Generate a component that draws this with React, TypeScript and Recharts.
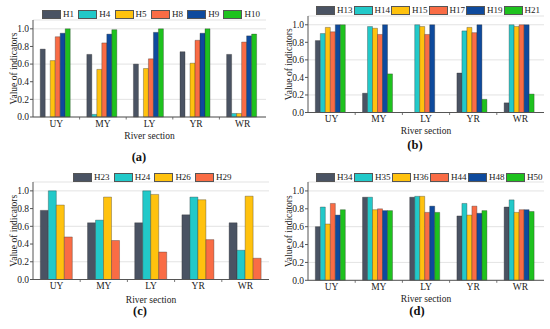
import React from "react";
import { BarChart, Bar, XAxis, YAxis, CartesianGrid, Legend } from "recharts";

const SECTIONS = ["UY", "MY", "LY", "YR", "WR"];
const Y_TICKS = [0, 0.2, 0.4, 0.6, 0.8, 1.0];

// panel (a)
const H1 = [0.77, 0.71, 0.6, 0.74, 0.71];
const H4 = [0, 0.03, 0, 0, 0.04];
const H5 = [0.64, 0.54, 0.55, 0.61, 0.04];
const H8 = [0.91, 0.84, 0.66, 0.87, 0.85];
const H9 = [0.95, 0.94, 0.96, 0.95, 0.92];
const H10 = [1.0, 0.99, 1.0, 1.0, 0.94];

// panel (b)
const H13 = [0.82, 0.22, 0, 0.45, 0.11];
const H14 = [0.9, 0.98, 1.0, 0.93, 1.0];
const H15 = [0.97, 0.96, 0.98, 0.97, 0.98];
const H17 = [0.92, 0.89, 0.89, 0.91, 1.0];
const H19 = [1.0, 1.0, 1.0, 1.0, 1.0];
const H21 = [1.0, 0.44, 0, 0.15, 0.21];

// panel (c)
const H23 = [0.78, 0.64, 0.64, 0.73, 0.64];
const H24 = [1.0, 0.67, 1.0, 0.93, 0.33];
const H26 = [0.84, 0.93, 0.96, 0.9, 0.94];
const H29 = [0.48, 0.44, 0.31, 0.45, 0.24];

// panel (d)
const H34 = [0.6, 0.93, 0.93, 0.72, 0.82];
const H35 = [0.82, 0.93, 0.94, 0.86, 0.9];
const H36 = [0.63, 0.79, 0.94, 0.73, 0.76];
const H44 = [0.86, 0.8, 0.76, 0.83, 0.79];
const H48 = [0.73, 0.78, 0.83, 0.75, 0.79];
const H50 = [0.79, 0.78, 0.76, 0.78, 0.77];

const SLATE = "#4a5363";
const CYAN = "#22c9c9";
const YELLOW = "#ffc20e";
const ORANGE = "#f96c45";
const NAVY = "#0e4a9d";
const GREEN = "#1ec21e";

const FONT = "'Liberation Serif', 'Times New Roman', serif";

type Series = { name: string; values: number[]; color: string };

type PanelProps = {
  caption: string;
  series: Series[];
  left: number;
  top: number;
  x0: number;
  x1: number;
  y0: number;
  y1: number;
  xh: number;
  legendX: number;
  legendY: number;
  pitch: number;
  capX: number;
  capY: number;
};

const PANELS: PanelProps[] = [
  {
    caption: "(a)",
    series: [
      { name: "H1", values: H1, color: SLATE },
      { name: "H4", values: H4, color: CYAN },
      { name: "H5", values: H5, color: YELLOW },
      { name: "H8", values: H8, color: ORANGE },
      { name: "H9", values: H9, color: NAVY },
      { name: "H10", values: H10, color: GREEN },
    ],
    left: 0, top: 0, x0: 33, x1: 266, y0: 20, y1: 117, xh: 21.5,
    legendX: 42, legendY: 9, pitch: 36.3, capX: 139, capY: 157,
  },
  {
    caption: "(b)",
    series: [
      { name: "H13", values: H13, color: SLATE },
      { name: "H14", values: H14, color: CYAN },
      { name: "H15", values: H15, color: YELLOW },
      { name: "H17", values: H17, color: ORANGE },
      { name: "H19", values: H19, color: NAVY },
      { name: "H21", values: H21, color: GREEN },
    ],
    left: 275, top: 0, x0: 308, x1: 544, y0: 16, y1: 112.5, xh: 21.5,
    legendX: 316, legendY: 5, pitch: 37.5, capX: 415, capY: 145,
  },
  {
    caption: "(c)",
    series: [
      { name: "H23", values: H23, color: SLATE },
      { name: "H24", values: H24, color: CYAN },
      { name: "H26", values: H26, color: YELLOW },
      { name: "H29", values: H29, color: ORANGE },
    ],
    left: 0, top: 165, x0: 33, x1: 269, y0: 182, y1: 279.5, xh: 23,
    legendX: 73, legendY: 172, pitch: 40.7, capX: 140, capY: 311,
  },
  {
    caption: "(d)",
    series: [
      { name: "H34", values: H34, color: SLATE },
      { name: "H35", values: H35, color: CYAN },
      { name: "H36", values: H36, color: YELLOW },
      { name: "H44", values: H44, color: ORANGE },
      { name: "H48", values: H48, color: NAVY },
      { name: "H50", values: H50, color: GREEN },
    ],
    left: 275, top: 165, x0: 308, x1: 544, y0: 182, y1: 280.3, xh: 21.5,
    legendX: 316, legendY: 172, pitch: 38, capX: 417, capY: 311,
  },
];

const W = 275;
const H = 165;

const Panel = (p: PanelProps) => {
  const data = SECTIONS.map((s, i) => {
    const row: Record<string, string | number> = { section: s };
    p.series.forEach(se => { row[se.name] = se.values[i]; });
    return row;
  });
  const band = (p.x1 - p.x0) / SECTIONS.length;

  // category label plus a small tick at each group boundary
  const XTick = (props: any) => {
    const { x, y, payload, index } = props;
    return (
      <g>
        <text x={x} y={y + 9.5} textAnchor="middle" fontSize={9.5} fontFamily={FONT} fill="#222">
          {payload.value}
        </text>
        {index < SECTIONS.length - 1 && (
          <line x1={x + band / 2} x2={x + band / 2} y1={y} y2={y + 2.5} stroke="#555" strokeWidth={0.8} />
        )}
      </g>
    );
  };

  const renderLegend = () => (
    <div style={{ display: "flex", fontFamily: FONT, fontSize: 9, color: "#222", lineHeight: "10px" }}>
      {p.series.map(se => (
        <div key={se.name} style={{ width: p.pitch, display: "flex", alignItems: "center" }}>
          <span style={{ width: 19, height: 9, boxSizing: "border-box", background: se.color, border: "0.8px solid #555", display: "inline-block", flex: "none" }} />
          <span style={{ marginLeft: 2, whiteSpace: "nowrap" }}>{se.name}</span>
        </div>
      ))}
    </div>
  );

  return (
    <div style={{ position: "absolute", left: p.left, top: p.top, width: W, height: H }}>
      <BarChart
        width={W}
        height={H}
        data={data}
        barGap={0}
        barCategoryGap="15.5%"
        margin={{ top: p.y0 - p.top, right: p.left + W - p.x1, left: 0, bottom: p.top + H - p.y1 - p.xh }}
      >
        <CartesianGrid vertical={false} stroke="#dcdcdc" strokeWidth={0.8} />
        <XAxis
          dataKey="section"
          height={p.xh}
          stroke="#555"
          tickSize={0}
          tickMargin={0}
          tick={XTick}
          label={{ value: "River section", position: "insideBottom", offset: 0, fontSize: 9.5, fontFamily: FONT, fill: "#222" }}
        />
        <XAxis xAxisId="top" orientation="top" height={0} tick={false} tickLine={false} stroke="#9a9a9a" />
        <YAxis
          width={p.x0 - p.left}
          domain={[0, 1.1]}
          ticks={Y_TICKS}
          tickFormatter={(v: number) => v.toFixed(1)}
          stroke="#555"
          tickSize={3}
          tickMargin={1}
          tick={{ fontSize: 9.5, fontFamily: FONT, fill: "#222" }}
          label={{ value: "Value of indicators", angle: -90, position: "center", dx: -3, fontSize: 9.5, fontFamily: FONT, fill: "#222" }}
        />
        <YAxis yAxisId="right" orientation="right" width={0} tick={false} tickLine={false} stroke="#9a9a9a" />
        <Legend
          layout="horizontal"
          verticalAlign="middle"
          align="center"
          content={renderLegend}
          wrapperStyle={{ top: p.legendY - p.top, left: p.legendX - p.left, width: "auto", height: 10 }}
        />
        {p.series.map(se => (
          <Bar
            key={se.name}
            dataKey={se.name}
            fill={se.color}
            stroke="rgba(40,40,40,0.55)"
            strokeWidth={0.6}
            isAnimationActive={false}
          />
        ))}
      </BarChart>
      <div
        style={{
          position: "absolute",
          left: p.capX - p.left - 20,
          top: p.capY - p.top - 8,
          width: 40,
          textAlign: "center",
          fontFamily: FONT,
          fontWeight: "bold",
          fontSize: 12.5,
          lineHeight: "16px",
          color: "#111",
        }}
      >
        {p.caption}
      </div>
    </div>
  );
};

export default function App() {
  return (
    <div style={{ position: "fixed", left: 0, top: 0, width: 550, height: 329, background: "#fff", overflow: "hidden" }}>
      {PANELS.map(p => <Panel key={p.caption} {...p} />)}
    </div>
  );
}
